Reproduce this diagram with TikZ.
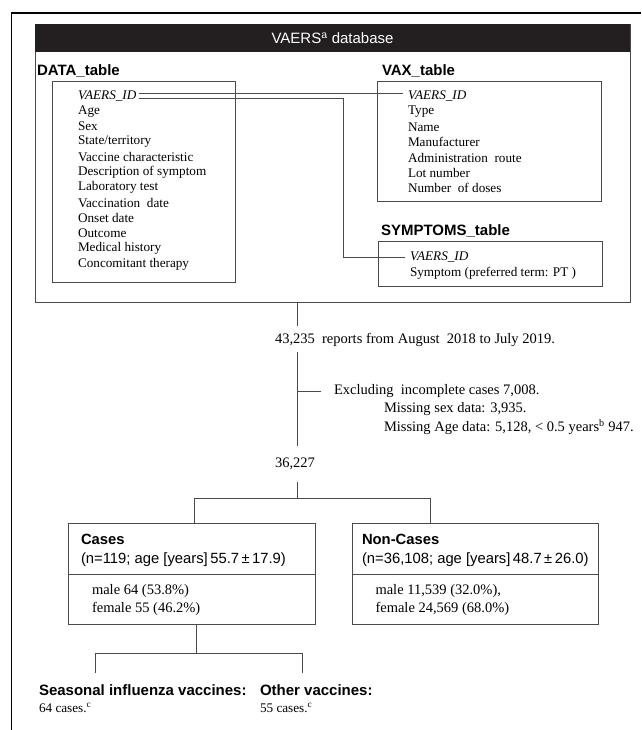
\documentclass[tikz,border=0pt]{standalone}
\usepackage{fontspec}
\setmainfont{Liberation Serif}
\newfontfamily\sansf{Liberation Sans}
\usetikzlibrary{calc}
\definecolor{ln}{HTML}{4A4A4A}
\definecolor{hdr}{HTML}{231F20}
\tikzset{
  txt/.style={inner sep=0pt, outer sep=0pt, anchor=west, font=\fontsize{13.2}{15}\selectfont},
  mtxt/.style={inner sep=0pt, outer sep=0pt, anchor=west, font=\fontsize{14.5}{17}\selectfont},
  ttl/.style={inner sep=0pt, outer sep=0pt, anchor=west, font=\sansf\bfseries\fontsize{15}{18}\selectfont},
  sbx/.style={inner sep=0pt, outer sep=0pt, anchor=west, font=\sansf\fontsize{14.8}{17}\selectfont},
  frame/.style={draw=ln, line width=0.8pt, inner sep=0pt, outer sep=0pt, anchor=north west},
  conn/.style={draw=ln, line width=0.8pt},
}
\begin{document}
\begin{tikzpicture}[x=1pt,y=-1pt]
\useasboundingbox (0,0) rectangle (641,730);
% outer frame
\draw[line width=1.3pt] (11.5,730) -- (11.5,13) -- (641,13);
% database box
\node[frame, minimum width=595pt, minimum height=278pt] (db) at (35,24) {};
\node[fill=hdr, inner sep=0pt, outer sep=0pt, anchor=north west, minimum width=595pt, minimum height=28pt] (hdr) at (35,24) {};
\node[inner sep=0pt, text=white, font=\sansf\fontsize{15}{17}\selectfont] (hdrtxt) at (hdr.center) {VAERS\textsuperscript{a} database};
% DATA table
\node[ttl] (dttl) at (37,71) {DATA\_table};
\node[frame, minimum width=183pt, minimum height=201pt] (dbox) at (52,81) {};
\node[txt] (dvid) at (78,96) {\itshape VAERS\_ID};
\foreach \t [count=\i] in {Age,Sex,State/territory,Vaccine characteristic,Description of symptom,Laboratory test,Vaccination\ \ date,Onset date,Outcome,Medical history,Concomitant therapy}
  \node[txt] (d\i) at (78,{96+\i*15.27}) {\t};
% VAX table
\node[ttl] (vttl) at (382,71) {VAX\_table};
\node[frame, minimum width=224pt, minimum height=120pt] (vbox) at (377,81) {};
\node[txt] (vvid) at (408,96) {\itshape VAERS\_ID};
\foreach \t [count=\i] in {Type,Name,Manufacturer,Administration\ \ route,Lot number,Number\ \ of doses}
  \node[txt] (v\i) at (408,{96+\i*15.4}) {\t};
% SYMPTOMS table
\node[ttl] (sttl) at (381,231) {SYMPTOMS\_table};
\node[frame, minimum width=224pt, minimum height=45pt] (sbox) at (378,241) {};
\node[txt] (svid) at (410,257) {\itshape VAERS\_ID};
\node[txt] (s1) at (410,273) {Symptom\ (preferred term: PT\ )};
% ID links
\coordinate (jx) at (343.5,0);
\draw[conn] ([xshift=3pt,yshift=2.5pt]dvid.east) -- ([xshift=-5pt,yshift=2.5pt]vvid.west);
\draw[conn] ([xshift=3pt,yshift=-2.5pt]dvid.east) -| (jx |- svid.west) -- ([xshift=-5pt]svid.west);
% flow
\coordinate (vx) at (297.5,0);
\node[mtxt] (n1) at (275,340) {43,235\ \ reports from August\ \ 2018 to July 2019.};
\node[mtxt] (ex) at (334,391) {Excluding\ \ incomplete cases 7,008.};
\node[mtxt] (ms) at (384,409) {Missing sex data: 3,935.};
\node[mtxt] (ma) at (384,427) {Missing Age data: 5,128, < 0.5 years\textsuperscript{b} 947.};
\node[mtxt] (n2) at (275,464) {36,227};
\draw[conn] (vx |- db.south) -- ([yshift=7pt]vx |- n1.north);
\draw[conn] ([yshift=-5pt]vx |- n1.south) -- ([yshift=12pt]vx |- n2.north);
\draw[conn] (vx |- ex.west) -- ([xshift=-13pt]ex.west);
% cases boxes
\node[frame, minimum width=247pt, minimum height=101pt] (cases) at (68,523) {};
\node[frame, minimum width=245.5pt, minimum height=101pt] (non) at (352.6,523) {};
\coordinate (dv) at (0,574);
\draw[conn] (cases.west |- dv) -- (cases.east |- dv);
\draw[conn] (non.west |- dv) -- (non.east |- dv);
\coordinate (bl) at (194,498);
\coordinate (br) at (430,498);
\draw[conn] ([yshift=-12pt]vx |- n2.south) -- (vx |- bl);
\draw[conn] (bl |- cases.north) -- (bl) -- (br) -- (br |- non.north);
\node[ttl, font=\sansf\bfseries\fontsize{14.8}{17}\selectfont] (ct) at (81,539) {Cases};
\node[sbx] (cn) at (81,560) {(n=119; age [years]\,55.7\,±\,17.9)};
\node[mtxt] (cm) at (92,591) {male 64 (53.8\%)};
\node[mtxt] (cf) at (92,609) {female 55 (46.2\%)};
\node[ttl, font=\sansf\bfseries\fontsize{14.8}{17}\selectfont] (nt) at (362,539) {Non-Cases};
\node[sbx] (nn) at (362,560) {(n=36,108; age [years]\,48.7\,±\,26.0)};
\node[mtxt] (nm) at (375.5,591) {male 11,539 (32.0\%),};
\node[mtxt] (nf) at (375.5,609) {female 24,569 (68.0\%)};
% vaccine split
\node[ttl] (sv) at (39,690) {Seasonal influenza vaccines:};
\node[txt] (sc) at (39,708) {64 cases.\textsuperscript{c}};
\node[ttl] (ov) at (260,690) {Other vaccines:};
\node[txt] (oc) at (260,708) {55 cases.\textsuperscript{c}};
\coordinate (cx) at (196,0);
\coordinate (vl) at (95,653);
\coordinate (vr) at (302,653);
\draw[conn] (cx |- cases.south) -- (cx |- vl);
\draw[conn] ([yshift=12pt]vl |- sv.north) -- (vl) -- (vr) -- ([yshift=12pt]vr |- sv.north);
\end{tikzpicture}
\end{document}
